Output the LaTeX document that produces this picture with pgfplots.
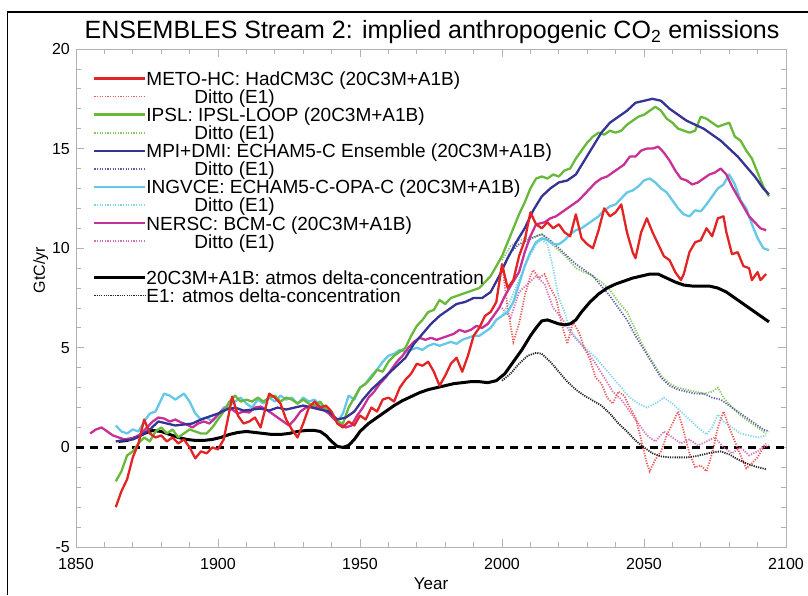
\documentclass[border=0pt]{standalone}
\usepackage{fontspec}
\setmainfont{Liberation Sans}
\usepackage{pgfplots}
\pgfplotsset{compat=1.18}
\definecolor{cred}{RGB}{226,36,36}
\definecolor{cgreen}{RGB}{104,184,58}
\definecolor{cblue}{RGB}{52,52,150}
\definecolor{ccyan}{RGB}{100,200,230}
\definecolor{cmag}{RGB}{200,48,150}
\tikzset{
 sred/.style={color=cred, line width=2.3pt, line join=round},
 sgreen/.style={color=cgreen, line width=2.3pt, line join=round},
 sblue/.style={color=cblue, line width=2.3pt, line join=round},
 scyan/.style={color=ccyan, line width=2.3pt, line join=round},
 smag/.style={color=cmag, line width=2.3pt, line join=round},
 sblack/.style={color=black, line width=3pt, line join=round},
 dred/.style={color=cred!75, line width=1.8pt, dash pattern=on 1.2pt off 1.4pt},
 dgreen/.style={color=cgreen!80, line width=1.8pt, dash pattern=on 1.2pt off 1.4pt},
 dblue/.style={color=cblue!80, line width=1.8pt, dash pattern=on 1.2pt off 1.4pt},
 dcyan/.style={color=ccyan!80, line width=1.8pt, dash pattern=on 1.2pt off 1.4pt},
 dmag/.style={color=cmag!70, line width=1.8pt, dash pattern=on 1.2pt off 1.4pt},
 dblack/.style={color=black!85, line width=1.8pt, dash pattern=on 1.2pt off 1.1pt},
}
\begin{document}
\begin{tikzpicture}
\path[use as bounding box] (0pt,0pt) rectangle (808pt,595pt);
\draw[line width=1.3pt] (7.5pt,0pt) -- (7.5pt,583pt) -- (808pt,583pt);
\node[font=\fontsize{25}{28}\selectfont, anchor=base] at (432pt,556pt) {ENSEMBLES Stream 2: implied anthropogenic CO\textsubscript{2} emissions};
\begin{axis}[
 at={(76pt,48pt)}, anchor=south west,
 scale only axis, width=710pt, height=498pt,
 xmin=1850, xmax=2100, ymin=-5, ymax=20,
 xtick={1850,1900,1950,2000,2050,2100},
 ytick={-5,0,5,10,15,20},
 minor x tick num=4, minor y tick num=4,
 xtick pos=both, ytick pos=both,
 xticklabel pos=lower, yticklabel pos=left,
 tick align=inside,
 major tick length=8pt, minor tick length=5pt,
 axis line style={gray!60, line width=0.9pt},
 every tick/.style={gray!60, line width=0.8pt},
 /pgf/number format/assume math mode=true,
 /pgf/number format/1000 sep={},
 tick label style={font=\fontsize{16}{18}\selectfont},
 xticklabel style={anchor=center, yshift=-17pt},
 yticklabel style={anchor=east, inner sep=0pt, xshift=-6pt},
 every axis x label/.style={at={(axis description cs:0.5,-0.0743)}, anchor=center, font=\fontsize{17}{19}\selectfont},
 every axis y label/.style={at={(axis description cs:-0.0495,0.556)}, anchor=center, rotate=90, font=\fontsize{16}{18}\selectfont},
 xlabel={Year}, ylabel={GtC/yr},
 legend cell align=left,
 legend image code/.code={\draw[#1] (0pt,2.4pt) -- (38pt,2.4pt); \path (0pt,2.4pt) -- (51pt,2.4pt);},
 legend style={at={(axis description cs:0.0239,0.9548)}, anchor=north west, draw=none, fill=none, inner sep=0pt, row sep=0pt,
   font=\fontsize{19}{20}\selectfont, nodes={inner sep=0pt, text height=13.5pt, text depth=4.6pt}},
]
% zero line
\addplot[black, line width=2.8pt, dash pattern=on 8pt off 6pt, forget plot] coordinates {(1850,0) (2100,0)};
% ---- E1 dotted ----
\addplot[dmag, forget plot] coordinates {(2000,7.0) (2003,6.5) (2006,7.8) (2009,8.2) (2012,8.6) (2015,8.2) (2018,7.0) (2021,6.5) (2024,5.8) (2027,5.3) (2030,4.8) (2033,4.2) (2036,3.5) (2039,2.8) (2042,2.4) (2045,1.8) (2048,1.2) (2051,0.6) (2054,0.3) (2057,0.8) (2060,0.5) (2063,0.2) (2066,0.4) (2069,0.1) (2072,0.3) (2075,0.5) (2078,0.0) (2081,-0.3) (2084,0.0) (2087,-0.4) (2090,-0.2) (2093,0.2)};
\addplot[dcyan, forget plot] coordinates {(2000,6.6) (2003,7.4) (2006,8.4) (2009,9.4) (2012,10.2) (2014,10.4) (2016,10.2) (2018,9.0) (2020,7.5) (2022,6.8) (2024,5.9) (2026,5.5) (2028,5.2) (2030,4.9) (2033,4.5) (2036,4.0) (2039,3.5) (2042,3.0) (2045,2.5) (2048,2.2) (2051,2.0) (2054,2.2) (2057,2.5) (2060,2.2) (2063,1.8) (2066,1.4) (2069,1.0) (2072,0.65) (2074,1.0) (2076,1.65) (2078,1.3) (2081,1.0) (2084,0.7) (2087,0.6) (2090,0.5) (2093,0.6)};
\addplot[dgreen, forget plot] coordinates {(2000,9.4) (2003,10.1) (2006,10.4) (2009,10.5) (2012,10.6) (2014,10.7) (2017,10.3) (2020,9.9) (2023,9.5) (2026,9.0) (2029,8.8) (2032,8.6) (2035,8.3) (2038,7.9) (2041,7.3) (2044,6.8) (2047,5.9) (2050,5.0) (2053,4.3) (2056,3.6) (2059,3.2) (2062,3.0) (2065,2.9) (2068,2.8) (2071,2.7) (2074,2.8) (2076,3.0) (2078,2.5) (2081,2.0) (2084,1.6) (2087,1.3) (2090,1.0) (2093,0.7)};
\addplot[dblue, forget plot] coordinates {(2000,9.0) (2003,9.8) (2006,10.2) (2009,10.4) (2012,10.6) (2014,10.7) (2017,10.4) (2020,10.0) (2023,9.6) (2026,9.2) (2029,8.9) (2032,8.6) (2035,8.1) (2038,7.6) (2041,7.0) (2044,6.4) (2047,5.6) (2050,4.9) (2053,4.2) (2056,3.5) (2059,3.1) (2062,2.9) (2065,2.8) (2068,2.7) (2071,2.7) (2074,2.5) (2077,2.4) (2080,2.1) (2083,1.8) (2086,1.5) (2089,1.2) (2092,0.9) (2094,0.8)};
\addplot[dred, forget plot] coordinates {(2000,9.2) (2002,7.0) (2004,5.3) (2006,6.2) (2008,7.6) (2010,8.6) (2011,8.9) (2013,8.5) (2015,8.7) (2017,8.0) (2019,7.5) (2021,6.2) (2023,5.2) (2025,6.3) (2027,5.8) (2029,5.0) (2031,4.4) (2033,3.5) (2035,3.2) (2037,2.5) (2039,2.2) (2041,2.8) (2043,2.6) (2045,2.0) (2047,1.5) (2049,0.4) (2051,-0.8) (2052,-1.2) (2054,-0.6) (2056,-0.2) (2058,0.6) (2060,1.2) (2062,1.8) (2064,0.8) (2066,-0.3) (2068,-1.0) (2070,-0.9) (2072,-1.2) (2074,-0.3) (2076,1.0) (2078,1.8) (2080,1.0) (2082,0.3) (2084,-0.4) (2086,-1.05) (2088,-0.8) (2090,-0.5) (2092,0.0) (2094,0.1)};
\addplot[dblack, forget plot] coordinates {(2000,3.35) (2003,3.7) (2006,4.2) (2009,4.6) (2012,4.75) (2014,4.7) (2017,4.3) (2020,3.8) (2023,3.3) (2026,2.9) (2029,2.6) (2032,2.35) (2035,2.1) (2038,1.7) (2041,1.2) (2044,0.8) (2047,0.35) (2050,0.0) (2053,-0.3) (2056,-0.45) (2059,-0.5) (2062,-0.5) (2065,-0.5) (2068,-0.45) (2071,-0.35) (2074,-0.25) (2077,-0.2) (2080,-0.35) (2083,-0.6) (2086,-0.8) (2089,-0.95) (2093,-1.1)};
% ---- solid 20C3M+A1B ----
\addplot[sblack, forget plot] coordinates {(1865,0.3) (1868,0.35) (1871,0.5) (1874,0.7) (1877,0.85) (1880,0.8) (1883,0.65) (1886,0.5) (1889,0.4) (1892,0.35) (1895,0.35) (1898,0.4) (1901,0.5) (1904,0.65) (1907,0.75) (1910,0.8) (1913,0.75) (1916,0.7) (1919,0.65) (1922,0.65) (1925,0.7) (1928,0.8) (1931,0.85) (1934,0.85) (1936,0.8) (1938,0.6) (1940,0.3) (1942,0.05) (1944,0.0) (1946,0.1) (1948,0.4) (1950,0.8) (1953,1.2) (1956,1.5) (1959,1.8) (1962,2.1) (1965,2.35) (1968,2.55) (1971,2.75) (1974,2.9) (1977,3.0) (1980,3.1) (1983,3.2) (1986,3.25) (1989,3.3) (1992,3.3) (1995,3.25) (1998,3.35) (2001,3.7) (2004,4.3) (2007,4.9) (2010,5.6) (2012,6.0) (2014,6.35) (2016,6.4) (2018,6.3) (2020,6.2) (2022,6.15) (2024,6.2) (2026,6.4) (2028,6.8) (2031,7.3) (2034,7.7) (2037,8.0) (2040,8.2) (2043,8.35) (2046,8.5) (2049,8.6) (2052,8.7) (2055,8.7) (2058,8.5) (2061,8.3) (2064,8.15) (2067,8.1) (2070,8.1) (2073,8.1) (2076,8.0) (2079,7.8) (2082,7.5) (2085,7.2) (2088,6.9) (2091,6.6) (2094,6.3)};
\addplot[scyan, forget plot] coordinates {(1864,1.1) (1866,0.8) (1868,0.7) (1870,0.9) (1872,0.8) (1874,1.3) (1876,1.7) (1878,1.8) (1880,2.4) (1881,2.7) (1883,2.6) (1885,2.4) (1887,2.6) (1888,2.7) (1890,2.3) (1892,1.7) (1894,1.4) (1896,1.5) (1898,1.3) (1900,1.6) (1902,2.0) (1904,2.1) (1906,2.3) (1908,2.5) (1910,2.2) (1912,2.0) (1914,2.4) (1916,2.2) (1918,2.5) (1920,2.3) (1922,2.6) (1924,2.4) (1926,2.5) (1928,2.2) (1930,2.5) (1932,2.3) (1934,2.4) (1936,2.1) (1938,1.9) (1940,1.6) (1942,1.3) (1944,1.7) (1946,2.6) (1948,2.4) (1950,3.0) (1952,3.2) (1954,3.6) (1956,3.9) (1958,4.3) (1960,4.6) (1962,4.7) (1964,4.9) (1966,4.8) (1968,4.9) (1970,5.0) (1972,4.9) (1974,5.1) (1976,5.2) (1978,5.1) (1980,5.2) (1982,5.3) (1984,5.2) (1986,5.4) (1988,5.5) (1990,5.6) (1992,5.6) (1994,5.8) (1996,6.0) (1998,6.4) (2000,6.6) (2002,6.8) (2004,7.3) (2006,8.2) (2008,9.1) (2010,9.8) (2012,10.3) (2014,10.5) (2016,10.4) (2018,10.2) (2020,10.2) (2022,10.4) (2024,10.7) (2026,10.9) (2028,11.0) (2030,11.2) (2032,11.4) (2034,11.6) (2036,11.9) (2038,12.1) (2040,12.2) (2042,12.5) (2044,12.8) (2046,12.9) (2048,13.1) (2050,13.4) (2052,13.5) (2054,13.3) (2056,13.0) (2058,12.8) (2060,12.4) (2062,12.0) (2064,11.7) (2066,11.6) (2068,11.9) (2070,11.85) (2072,12.2) (2074,12.6) (2076,13.0) (2078,13.2) (2080,13.7) (2082,13.2) (2084,12.4) (2086,12.0) (2088,11.2) (2090,10.5) (2092,10.0) (2094,9.9)};
\addplot[smag, forget plot] coordinates {(1855,0.7) (1857,0.9) (1859,1.0) (1861,0.8) (1863,0.6) (1865,0.5) (1867,0.4) (1869,0.45) (1871,0.5) (1873,0.7) (1875,1.0) (1877,1.3) (1879,1.5) (1881,1.45) (1883,1.3) (1885,1.4) (1887,1.25) (1889,1.15) (1891,1.0) (1893,1.2) (1895,1.3) (1897,1.2) (1899,1.5) (1901,1.8) (1903,2.0) (1905,1.9) (1907,1.7) (1909,1.8) (1911,1.75) (1913,2.0) (1915,2.05) (1917,1.9) (1919,1.7) (1921,1.5) (1923,1.3) (1925,1.1) (1927,1.4) (1929,1.8) (1931,2.0) (1933,2.1) (1935,2.0) (1937,1.9) (1939,1.7) (1941,1.4) (1943,1.2) (1945,1.0) (1947,1.1) (1949,1.6) (1951,2.0) (1953,2.5) (1955,2.8) (1957,3.2) (1959,3.5) (1961,3.9) (1963,4.3) (1965,4.6) (1967,5.0) (1969,5.3) (1971,5.5) (1973,5.4) (1975,5.5) (1977,5.4) (1979,5.5) (1981,5.6) (1983,5.7) (1985,5.9) (1987,5.8) (1989,5.9) (1991,6.1) (1993,6.0) (1995,6.2) (1997,6.6) (1999,7.0) (2001,7.6) (2003,8.1) (2006,8.8) (2008,9.8) (2010,10.6) (2012,11.2) (2015,11.3) (2017,11.5) (2019,11.6) (2021,11.8) (2023,12.0) (2025,12.2) (2027,12.4) (2029,12.7) (2031,13.0) (2033,13.3) (2035,13.5) (2037,13.6) (2039,13.8) (2041,14.0) (2043,14.2) (2045,14.6) (2047,14.6) (2049,14.9) (2051,15.0) (2053,15.0) (2055,15.1) (2057,14.8) (2059,14.4) (2061,13.9) (2063,13.5) (2065,13.4) (2067,13.2) (2069,13.3) (2071,13.5) (2073,13.7) (2075,13.8) (2077,14.0) (2079,13.7) (2081,13.1) (2083,12.6) (2085,12.1) (2087,11.6) (2089,11.3) (2091,11.0) (2093,10.9)};
\addplot[sgreen, forget plot] coordinates {(1864,-1.7) (1866,-1.2) (1868,-0.4) (1870,-0.2) (1872,0.2) (1874,0.5) (1876,0.3) (1878,0.8) (1880,1.0) (1882,0.7) (1884,0.9) (1886,0.5) (1888,0.7) (1890,0.9) (1892,0.8) (1894,0.7) (1896,0.7) (1898,1.0) (1900,1.4) (1902,1.8) (1904,2.3) (1906,2.6) (1908,2.3) (1910,2.4) (1912,2.3) (1914,2.5) (1916,2.3) (1918,2.5) (1920,2.6) (1922,2.3) (1924,2.5) (1926,2.4) (1928,2.2) (1930,2.4) (1932,2.2) (1934,2.1) (1936,2.3) (1938,1.9) (1940,1.7) (1942,1.3) (1944,1.2) (1946,2.0) (1948,2.5) (1950,3.0) (1952,3.2) (1954,3.5) (1956,3.9) (1958,3.8) (1960,4.3) (1962,4.6) (1964,4.8) (1966,5.0) (1968,5.6) (1970,6.1) (1972,6.4) (1974,6.8) (1976,6.9) (1978,7.4) (1980,7.2) (1982,7.5) (1984,7.6) (1986,7.7) (1988,7.8) (1990,7.9) (1992,8.0) (1994,8.3) (1996,8.6) (1998,9.1) (2000,9.6) (2002,10.3) (2004,11.0) (2006,11.7) (2008,12.3) (2010,13.0) (2012,13.5) (2014,13.6) (2016,13.5) (2018,13.7) (2020,13.6) (2022,13.9) (2024,14.0) (2026,14.5) (2028,14.9) (2030,15.3) (2032,15.6) (2034,15.8) (2036,15.7) (2038,15.9) (2040,15.8) (2042,15.9) (2044,16.2) (2046,16.4) (2048,16.6) (2050,16.7) (2052,16.9) (2054,17.1) (2056,16.9) (2058,16.5) (2060,16.3) (2062,16.0) (2064,15.9) (2066,15.8) (2068,15.9) (2070,16.6) (2072,16.5) (2074,16.3) (2076,16.1) (2078,16.2) (2080,16.3) (2082,15.6) (2084,15.4) (2086,14.9) (2088,14.5) (2090,13.8) (2092,13.1) (2094,12.6)};
\addplot[sblue, forget plot] coordinates {(1864,0.3) (1867,0.35) (1870,0.4) (1873,0.6) (1876,0.9) (1879,1.3) (1882,1.2) (1885,1.1) (1888,1.15) (1891,1.2) (1894,1.4) (1897,1.55) (1900,1.7) (1903,1.9) (1906,2.0) (1909,1.85) (1912,1.9) (1915,1.95) (1918,1.85) (1921,2.0) (1924,1.9) (1927,2.0) (1930,2.1) (1933,2.0) (1936,1.9) (1939,1.8) (1942,1.4) (1945,1.5) (1948,1.8) (1951,2.4) (1954,2.9) (1957,3.3) (1960,3.7) (1963,4.1) (1966,4.5) (1969,5.2) (1972,5.7) (1975,6.2) (1978,6.6) (1981,6.9) (1984,7.2) (1987,7.3) (1990,7.5) (1993,7.5) (1996,7.8) (1999,8.6) (2002,9.5) (2005,10.3) (2008,11.0) (2011,11.9) (2014,12.6) (2017,13.0) (2020,13.3) (2023,13.4) (2026,13.7) (2029,14.4) (2032,15.1) (2035,15.8) (2038,16.3) (2041,16.6) (2044,16.9) (2047,17.3) (2050,17.4) (2053,17.5) (2056,17.4) (2059,17.0) (2062,16.7) (2065,16.4) (2068,16.2) (2071,16.0) (2074,15.7) (2077,15.4) (2080,15.0) (2083,14.6) (2086,14.1) (2089,13.6) (2092,13.0) (2094,12.7)};
\addplot[sred, forget plot] coordinates {(1864,-3.0) (1866,-2.2) (1868,-1.6) (1870,-0.5) (1872,0.2) (1874,1.4) (1876,0.7) (1878,0.5) (1880,0.6) (1882,0.3) (1884,0.5) (1886,0.2) (1888,0.4) (1890,0.0) (1892,-0.55) (1894,-0.2) (1896,-0.3) (1898,0.0) (1900,-0.1) (1902,0.4) (1904,1.8) (1905,2.55) (1907,1.6) (1909,1.2) (1911,1.3) (1913,1.5) (1915,1.0) (1918,2.7) (1920,2.5) (1922,2.2) (1924,1.4) (1926,0.9) (1928,0.5) (1930,1.2) (1932,2.0) (1934,2.3) (1936,2.0) (1938,2.1) (1940,1.8) (1942,1.2) (1944,1.0) (1946,1.3) (1948,1.1) (1950,1.6) (1952,1.4) (1954,2.0) (1956,1.8) (1958,2.4) (1960,2.5) (1962,2.3) (1964,3.0) (1966,3.4) (1968,3.7) (1970,4.2) (1972,4.1) (1974,4.3) (1976,3.8) (1978,3.1) (1980,3.6) (1982,4.2) (1984,4.5) (1986,3.8) (1988,4.6) (1990,5.6) (1992,6.0) (1994,6.6) (1996,6.8) (1998,7.3) (2000,9.2) (2002,8.0) (2004,8.4) (2006,9.6) (2008,10.4) (2010,11.8) (2012,11.2) (2014,11.0) (2016,11.3) (2018,11.0) (2020,11.2) (2022,10.8) (2024,10.6) (2026,11.7) (2028,10.5) (2030,10.2) (2032,10.0) (2034,10.9) (2036,12.0) (2038,11.6) (2040,11.8) (2042,12.2) (2044,10.8) (2046,9.8) (2047,9.5) (2049,10.8) (2051,11.5) (2053,10.8) (2055,10.2) (2057,9.6) (2059,9.4) (2061,8.8) (2063,8.4) (2064,8.7) (2066,9.8) (2068,10.3) (2070,10.4) (2072,11.0) (2074,10.6) (2076,11.5) (2078,11.6) (2079,10.8) (2081,9.7) (2083,9.8) (2085,9.1) (2087,9.0) (2088,8.4) (2090,8.8) (2091,8.4) (2093,8.7)};
% ---- legend ----
\addlegendimage{sred}\addlegendentry{METO-HC: HadCM3C (20C3M+A1B)}
\addlegendimage{dred}\addlegendentry{\hspace*{48pt}Ditto (E1)}
\addlegendimage{sgreen}\addlegendentry{IPSL: IPSL-LOOP (20C3M+A1B)}
\addlegendimage{dgreen}\addlegendentry{\hspace*{48pt}Ditto (E1)}
\addlegendimage{sblue}\addlegendentry{MPI+DMI: ECHAM5-C Ensemble (20C3M+A1B)}
\addlegendimage{dblue}\addlegendentry{\hspace*{48pt}Ditto (E1)}
\addlegendimage{scyan}\addlegendentry{INGVCE: ECHAM5-C-OPA-C (20C3M+A1B)}
\addlegendimage{dcyan}\addlegendentry{\hspace*{48pt}Ditto (E1)}
\addlegendimage{smag}\addlegendentry{NERSC: BCM-C (20C3M+A1B)}
\addlegendimage{dmag}\addlegendentry{\hspace*{48pt}Ditto (E1)}
\addlegendimage{empty legend}\addlegendentry{}
\addlegendimage{black, line width=2.3pt}\addlegendentry{20C3M+A1B: atmos delta-concentration}
\addlegendimage{dblack}\addlegendentry{E1: atmos delta-concentration}
\end{axis}
\end{tikzpicture}
\end{document}
